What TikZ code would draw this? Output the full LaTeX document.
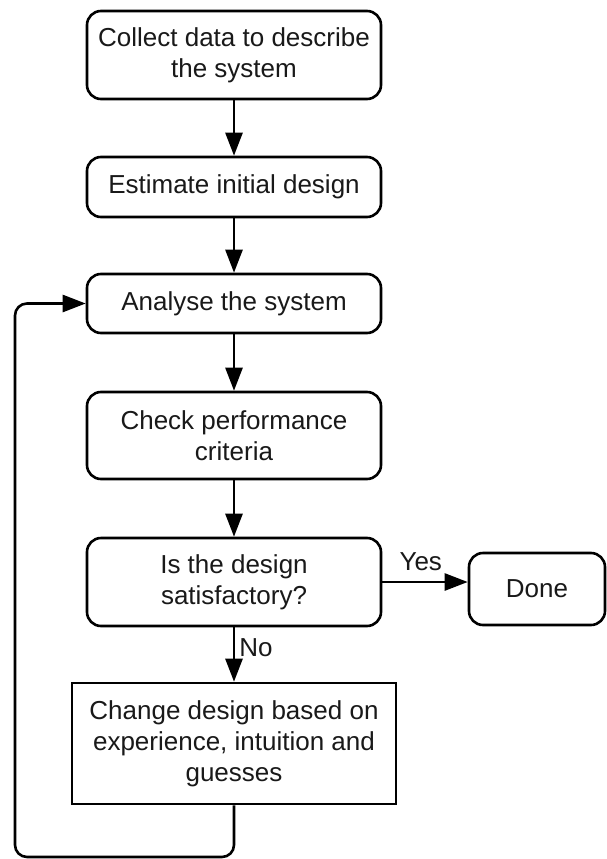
\documentclass[tikz,border=0pt]{standalone}
\usepackage{fontspec}
\setmainfont{Liberation Sans}
\usetikzlibrary{arrows.meta}
\begin{document}
\begin{tikzpicture}[x=1pt,y=-1pt,
  box/.style={draw=black, line width=2.6pt, rounded corners=14pt, align=center,
    inner sep=0pt, text=black!90, font=\fontsize{26}{31}\selectfont},
  sqbox/.style={box, rounded corners=0pt},
  conn/.style={draw=black, line width=2.6pt, -{Triangle[length=23pt,width=17pt]}},
  lbl/.style={inner sep=0pt, text=black!90, font=\fontsize{26}{31}\selectfont}]
\fill[white] (0,0) rectangle (606,859);
\useasboundingbox (0,0) rectangle (606,859);
\node[box, minimum width=294pt, minimum height=88pt] (b1) at (234,55) {Collect data to describe\\the system};
\node[box, minimum width=294pt, minimum height=60pt] (b2) at (234,187) {Estimate initial design};
\node[box, minimum width=294pt, minimum height=59pt] (b3) at (234,303.5) {Analyse the system};
\node[box, minimum width=294pt, minimum height=87pt] (b4) at (234,435.5) {Check performance\\criteria};
\node[box, minimum width=294pt, minimum height=88pt] (b5) at (234,582) {Is the design\\satisfactory?};
\node[box, minimum width=136pt, minimum height=72pt] (done) at (537,589) {Done};
\node[sqbox, minimum width=324pt, minimum height=121pt] (b6) at (234,743.5) {Change design based on\\experience, intuition and\\guesses};
\coordinate (c1) at (234,857);
\coordinate (c2) at (15,857);
\coordinate (c3) at (15,303.5);
\draw[conn] (b1) -- (b2);
\draw[conn] (b2) -- (b3);
\draw[conn] (b3) -- (b4);
\draw[conn] (b4) -- (b5);
\draw[conn] (b5.east |- 0,582) -- (done.west |- 0,582) node[lbl, pos=0.45, above=10pt] (yes) {Yes};
\draw[conn] (b5) -- (b6) node[lbl, pos=0.38, right=4pt] (no) {No};
\draw[conn, rounded corners=12pt] (b6.south) -- (c1) -- (c2) -- (c3) -- (b3.west);
\end{tikzpicture}
\end{document}
